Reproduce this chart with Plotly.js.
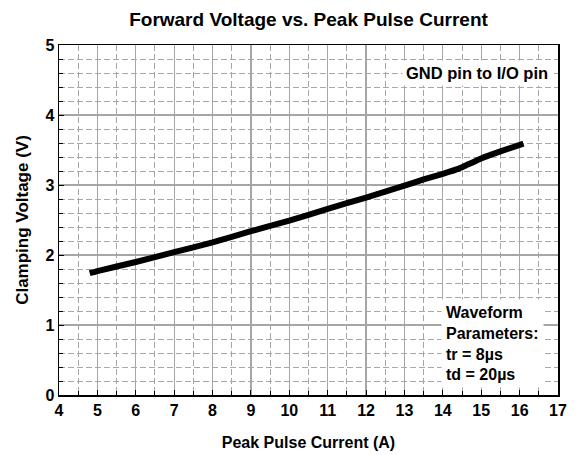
<!DOCTYPE html>
<html>
<head>
<meta charset="utf-8">
<script src="https://cdn.plot.ly/plotly-3.0.1.min.js"></script>
<style>html,body{margin:0;padding:0;background:#fff;}#chart{width:576px;height:455px;}</style>
</head>
<body>
<div id="chart"></div>
<script>
// Data
const peakCurrent = [4.8, 5, 6, 7, 8, 9, 10, 11, 12, 13, 13.5, 14, 14.4, 14.6, 15, 15.5, 16.1];
const clampVoltage = [1.74, 1.77, 1.90, 2.04, 2.18, 2.34, 2.49, 2.66, 2.82, 2.99, 3.08, 3.16, 3.23, 3.28, 3.38, 3.48, 3.59];
const xTickVals = [4, 5, 6, 7, 8, 9, 10, 11, 12, 13, 14, 15, 16, 17];
const yTickVals = [0, 1, 2, 3, 4, 5];
const chartTitle = "Forward Voltage vs. Peak Pulse Current";
const xTitle = "Peak Pulse Current (A)";
const yTitle = "Clamping Voltage (V)";
const note1 = "GND pin to I/O pin";
const note2Lines = ["Waveform", "Parameters:", "tr = 8\u00b5s", "td = 20\u00b5s"];

const FONT = "Liberation Sans, Arial, sans-serif";
const gridGrey = "#a6a6a6";

const trace = {
  x: peakCurrent,
  y: clampVoltage,
  type: "scatter",
  mode: "lines",
  line: {color: "#000", width: 6, shape: "spline", smoothing: 0.3},
  hoverinfo: "skip"
};

const layout = {
  width: 576, height: 455,
  margin: {l: 59, r: 18, t: 45, b: 60},
  paper_bgcolor: "#fff",
  plot_bgcolor: "#fff",
  showlegend: false,
  font: {family: FONT, color: "#000", size: 16},
  title: {
    text: "<b>" + chartTitle + "</b>",
    font: {family: FONT, size: 19, color: "#000"},
    x: 0.5, xanchor: "center", xref: "paper",
    y: 1 - 19/455, yanchor: "middle", yref: "container"
  },
  xaxis: {
    range: [4, 17],
    tickvals: xTickVals,
    ticktext: xTickVals.map(v => "<b>" + v + "</b>"),
    tickfont: {family: FONT, size: 16, color: "#000"},
    ticks: "inside", ticklen: 5, tickcolor: "#000", tickwidth: 1,
    showline: true, linecolor: "#000", linewidth: 1.5, mirror: true,
    showgrid: true, gridcolor: gridGrey, gridwidth: 1.2,
    zeroline: false,
    minor: {dtick: 0.5, showgrid: true, gridcolor: gridGrey, gridwidth: 1, griddash: "6px,3px",
            ticks: "inside", ticklen: 4, tickcolor: "#000"},
    title: {text: "<b>" + xTitle + "</b>", font: {family: FONT, size: 16, color: "#000"}, standoff: 19},
    fixedrange: true
  },
  yaxis: {
    range: [0, 5],
    tickvals: yTickVals,
    ticktext: yTickVals.map(v => "<b>" + v + "</b>"),
    tickfont: {family: FONT, size: 16, color: "#000"},
    ticks: "inside", ticklen: 5, tickcolor: "#000", tickwidth: 1,
    showline: true, linecolor: "#000", linewidth: 1.5, mirror: true,
    showgrid: true, gridcolor: gridGrey, gridwidth: 1.2,
    zeroline: false,
    minor: {dtick: 0.2, showgrid: true, gridcolor: gridGrey, gridwidth: 1, griddash: "6px,3px",
            ticks: "inside", ticklen: 4, tickcolor: "#000"},
    title: {text: "<b>" + yTitle + "</b>", font: {family: FONT, size: 17, color: "#000"}, standoff: 12},
    fixedrange: true
  },
  annotations: [
    {
      text: "<b>" + note1 + "</b>",
      xref: "paper", yref: "paper",
      x: 0.987, y: 0.92, xanchor: "right", yanchor: "middle",
      showarrow: false, bgcolor: "#fff", borderpad: 3,
      font: {family: FONT, size: 16.5, color: "#000"}
    },
    {
      text: note2Lines.map(s => "<b>" + s + "</b>").join("<br>"),
      xref: "paper", yref: "paper",
      x: 0.7655, y: 0.2754, xanchor: "left", yanchor: "top",
      align: "left",
      showarrow: false, bgcolor: "#fff", borderpad: 4,
      font: {family: FONT, size: 16, color: "#000"}
    }
  ]
};

Plotly.newPlot("chart", [trace], layout, {displayModeBar: false, staticPlot: true});
</script>
</body>
</html>
